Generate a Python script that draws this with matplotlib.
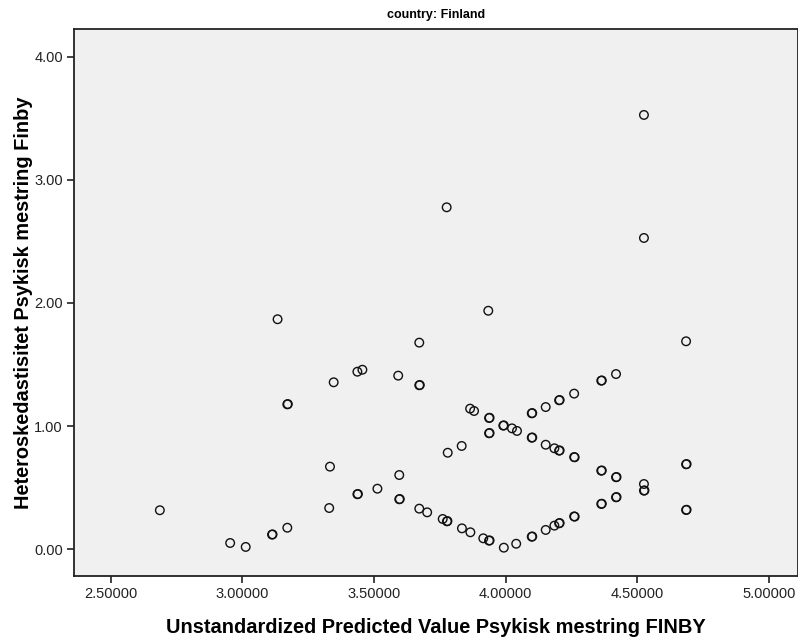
import numpy as np
import matplotlib
matplotlib.use("Agg")
import matplotlib.pyplot as plt
from matplotlib.ticker import FormatStrFormatter

# Predicted value vs. heteroskedasticity, country: Finland
# bold-looking circles in the original are two overlapping cases, so they appear twice
pred = [
    2.687, 2.954, 3.013, 3.113, 3.115, 3.134, 3.171, 3.171, 3.173,
    3.330, 3.333, 3.347, 3.437, 3.437, 3.439, 3.456, 3.513,
    3.592, 3.596, 3.596, 3.598, 3.672, 3.672, 3.674, 3.672, 3.702,
    3.761, 3.776, 3.777, 3.779, 3.780, 3.833, 3.834, 3.865, 3.866, 3.880,
    3.915, 3.934, 3.937, 3.939, 3.937, 3.939, 3.937, 3.939,
    3.991, 3.993, 3.993, 4.024, 4.040, 4.043,
    4.099, 4.101, 4.099, 4.101, 4.099, 4.101,
    4.152, 4.152, 4.152, 4.185, 4.185,
    4.203, 4.205, 4.203, 4.205, 4.203, 4.205,
    4.260, 4.262, 4.260, 4.262, 4.260,
    4.363, 4.365, 4.363, 4.365, 4.363, 4.365,
    4.419, 4.419, 4.421, 4.419, 4.421,
    4.525, 4.525, 4.525, 4.525, 4.527,
    4.685, 4.685, 4.687, 4.685, 4.687,
]
hetero = [
    0.317, 0.051, 0.019, 0.119, 0.121, 1.868, 1.177, 0.175, 1.179,
    0.335, 0.671, 1.356, 1.442, 0.447, 0.449, 1.458, 0.492,
    1.410, 0.603, 0.406, 0.408, 1.678, 1.332, 1.334, 0.330, 0.300,
    0.246, 2.777, 0.227, 0.229, 0.784, 0.839, 0.170, 1.142, 0.138, 1.123,
    0.089, 1.937, 1.066, 1.068, 0.942, 0.944, 0.070, 0.072,
    1.004, 1.006, 0.013, 0.982, 0.045, 0.961,
    1.104, 1.106, 0.906, 0.908, 0.102, 0.104,
    1.155, 0.849, 0.157, 0.820, 0.192,
    1.210, 1.212, 0.801, 0.803, 0.211, 0.213,
    1.264, 0.747, 0.749, 0.265, 0.267,
    1.369, 1.371, 0.638, 0.640, 0.368, 0.370,
    1.423, 0.585, 0.587, 0.422, 0.424,
    3.527, 2.528, 0.530, 0.476, 0.478,
    1.689, 0.690, 0.692, 0.319, 0.321,
]

x_ticks = [2.5, 3.0, 3.5, 4.0, 4.5, 5.0]
y_ticks = [0.0, 1.0, 2.0, 3.0, 4.0]

plt.rcParams['font.family'] = ['Liberation Sans', 'DejaVu Sans']

fig = plt.figure(figsize=(7.98, 6.40), dpi=100)
ax = fig.add_axes([0.0927, 0.1, 0.907, 0.8547])
ax.set_facecolor('#f0f0f0')

ax.scatter(pred, hetero, s=38, facecolors='none', edgecolors='#111111', linewidths=1.0)

ax.set_xlim(2.361, 5.109)
ax.set_ylim(-0.217, 4.225)
ax.set_xticks(x_ticks)
ax.set_yticks(y_ticks)
ax.xaxis.set_major_formatter(FormatStrFormatter('%.5f'))
ax.yaxis.set_major_formatter(FormatStrFormatter('%.2f'))
ax.tick_params(direction='out', length=5, width=1.2, labelsize=10.5, colors='#222222', pad=3)
ax.tick_params(top=False, right=False)
for s in ax.spines.values():
    s.set_linewidth(1.3)
    s.set_color('#222222')

ax.set_xlabel('Unstandardized Predicted Value Psykisk mestring FINBY',
              fontsize=14.4, fontweight='bold', labelpad=12)
ax.set_ylabel('Heteroskedastisitet Psykisk mestring Finby',
              fontsize=14.4, fontweight='bold')
ax.yaxis.set_label_coords(-0.057, 0.5)
ax.set_title('country: Finland', fontsize=9, fontweight='bold', pad=8)

fig.savefig('out.png', dpi=100, facecolor='white')
